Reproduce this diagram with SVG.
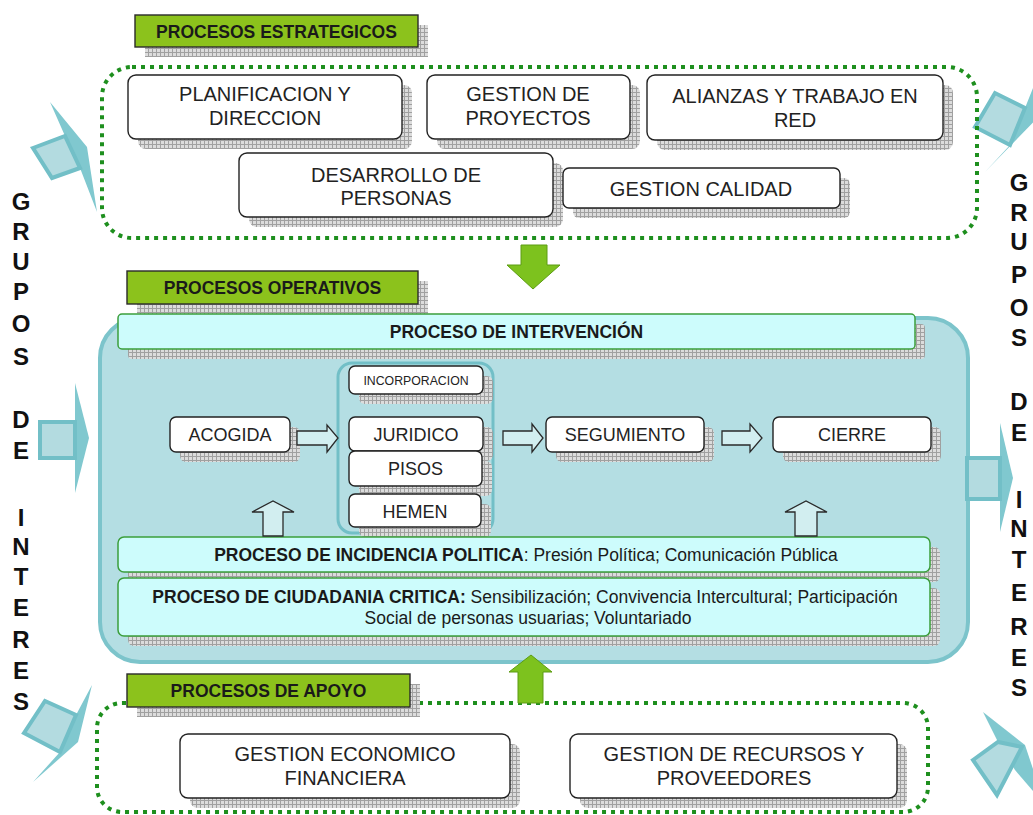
<svg xmlns="http://www.w3.org/2000/svg" width="1033" height="815" viewBox="0 0 1033 815">
<defs>
<pattern id="hatch" width="4" height="4" patternUnits="userSpaceOnUse"><rect width="4" height="4" fill="#dcdcdc"/><path d="M0 0.5H4M0.5 0V4" stroke="#a0a0a0" stroke-width="1"/></pattern>
<style>
.sh{fill:url(#hatch)}
.box{fill:#fff;stroke:#222;stroke-width:1.4}
.t{font-family:"Liberation Sans",Arial,sans-serif;font-size:20px;fill:#222;text-anchor:middle}
.t2{font-family:"Liberation Sans",Arial,sans-serif;font-size:18px;fill:#222;text-anchor:middle}
.t3{font-family:"Liberation Sans",Arial,sans-serif;font-size:12.3px;fill:#222;text-anchor:middle}
.lab{fill:#8cc21c;stroke:#2a2a2a;stroke-width:1.4}
.labt{font-family:"Liberation Sans",Arial,sans-serif;font-size:17.5px;font-weight:bold;fill:#1a1a1a;text-anchor:middle}
.dot{fill:none;stroke:#1e8f1e;stroke-width:4;stroke-dasharray:4 5}
.pb{fill:#cdfcfc;stroke:#3b9e3b;stroke-width:1.5}
.pt{font-family:"Liberation Sans",Arial,sans-serif;font-size:17.5px;fill:#1a1a1a;text-anchor:middle}
.hol{fill:#d2eef0;stroke:#2a2a2a;stroke-width:1.3;stroke-linejoin:miter}
.side{font-family:"Liberation Sans",Arial,sans-serif;font-size:24px;font-weight:bold;fill:#111;text-anchor:middle}
.ab{fill:#b3dbe0;stroke:#72bfc7;stroke-width:4;stroke-linejoin:miter}
.ah{fill:#80c8cf}
.ga{fill:#7dc21e;stroke:#5c9c12;stroke-width:1}
</style>
</defs>
<rect width="1033" height="815" fill="#fff"/>

<g id="side-arrows">
<polygon class="ah" points="50,102 87,147 97,212 80,168 65,136"/>
<polygon class="ab" points="33,148 65,136 80,168 52,178"/>
<polygon class="ah" points="1025,108 1045,58 1045,110 985,172 1010,145"/>
<polygon class="ab" points="975,127 995,93 1025,108 1010,145"/>
<polygon class="ah" points="75,383 89,438 75,493"/>
<rect class="ab" x="40" y="422" width="35" height="36"/>
<polygon class="ah" points="76,715 92,685 78,742 33,782 60,752"/>
<polygon class="ab" points="24,733 45,701 76,715 60,752"/>
</g>

<g id="side-text-left">
<text class="side" x="21" y="210">G</text>
<text class="side" x="21" y="240">R</text>
<text class="side" x="21" y="270">U</text>
<text class="side" x="21" y="300">P</text>
<text class="side" x="21" y="332">O</text>
<text class="side" x="21" y="365">S</text>
<text class="side" x="21" y="428">D</text>
<text class="side" x="21" y="459">E</text>
<text class="side" x="21" y="526">I</text>
<text class="side" x="21" y="555">N</text>
<text class="side" x="21" y="585">T</text>
<text class="side" x="21" y="616">E</text>
<text class="side" x="21" y="648">R</text>
<text class="side" x="21" y="679">E</text>
<text class="side" x="21" y="710">S</text>
</g>
<g id="side-text-right">
<text class="side" x="1019" y="191">G</text>
<text class="side" x="1019" y="221">R</text>
<text class="side" x="1019" y="250">U</text>
<text class="side" x="1019" y="283">P</text>
<text class="side" x="1019" y="316">O</text>
<text class="side" x="1019" y="346">S</text>
<text class="side" x="1019" y="410">D</text>
<text class="side" x="1019" y="441">E</text>
<text class="side" x="1019" y="508">I</text>
<text class="side" x="1019" y="537">N</text>
<text class="side" x="1019" y="568">T</text>
<text class="side" x="1019" y="601">E</text>
<text class="side" x="1019" y="635">R</text>
<text class="side" x="1019" y="666">E</text>
<text class="side" x="1019" y="696">S</text>
</g>

<g id="estrategicos-frame"><rect class="dot" x="102" y="67" width="875" height="171" rx="30"/></g>
<g id="label-estrategicos">
<rect class="sh" x="145" y="25" width="283" height="32"/>
<rect class="lab" x="135" y="15" width="283" height="32"/>
<text class="labt" x="276.5" y="38">PROCESOS ESTRATEGICOS</text>
</g>
<g id="n-planificacion">
<rect class="sh" x="138" y="85" width="274" height="64" rx="8"/>
<rect class="box" x="128" y="75" width="274" height="64" rx="8"/>
<text class="t" x="265" y="101">PLANIFICACION Y</text>
<text class="t" x="265" y="125">DIRECCION</text>
</g>
<g id="n-proyectos">
<rect class="sh" x="437" y="85" width="203" height="64" rx="8"/>
<rect class="box" x="427" y="75" width="203" height="64" rx="8"/>
<text class="t" x="528" y="101">GESTION DE</text>
<text class="t" x="528" y="125">PROYECTOS</text>
</g>
<g id="n-alianzas">
<rect class="sh" x="657" y="85" width="296" height="65" rx="8"/>
<rect class="box" x="647" y="75" width="296" height="65" rx="8"/>
<text class="t" x="795" y="103">ALIANZAS Y TRABAJO EN</text>
<text class="t" x="795" y="127">RED</text>
</g>
<g id="n-desarrollo">
<rect class="sh" x="249" y="163" width="314" height="64" rx="8"/>
<rect class="box" x="239" y="153" width="314" height="64" rx="8"/>
<text class="t" x="396" y="182">DESARROLLO DE</text>
<text class="t" x="396" y="205">PERSONAS</text>
</g>
<g id="n-calidad">
<rect class="sh" x="573" y="178" width="277" height="40" rx="6"/>
<rect class="box" x="563" y="168" width="277" height="40" rx="6"/>
<text class="t" x="701" y="196">GESTION CALIDAD</text>
</g>

<g id="operativos-frame">
<rect x="100" y="318" width="868" height="344" rx="40" fill="#b4dee3" stroke="#7cc4cb" stroke-width="4"/>
</g>
<g id="label-operativos">
<rect class="sh" x="137" y="281" width="291" height="33"/>
<rect class="lab" x="127" y="271" width="291" height="33"/>
<text class="labt" x="272.5" y="294">PROCESOS OPERATIVOS</text>
</g>
<g id="n-intervencion">
<rect class="sh" x="128" y="324" width="797" height="35" rx="4"/>
<rect class="pb" x="118" y="314" width="797" height="35" rx="4"/>
<text class="pt" x="516.5" y="338" font-weight="bold">PROCESO DE INTERVENCIÓN</text>
</g>
<g id="inner-group"><rect x="338" y="363" width="155" height="170" rx="14" fill="none" stroke="#72bfc7" stroke-width="3"/></g>
<g id="n-acogida">
<rect class="sh" x="180" y="427" width="120" height="35" rx="6"/>
<rect class="box" x="170" y="417" width="120" height="35" rx="6"/>
<text class="t2" x="230" y="441">ACOGIDA</text>
</g>
<g id="n-incorporacion">
<rect class="sh" x="359" y="376" width="134" height="28" rx="6"/>
<rect class="box" x="349" y="366" width="134" height="28" rx="6"/>
<text class="t3" x="416" y="384.5">INCORPORACION</text>
</g>
<g id="n-juridico">
<rect class="sh" x="359" y="427" width="134" height="34" rx="6"/>
<rect class="box" x="349" y="417" width="134" height="34" rx="6"/>
<text class="t2" x="416" y="441">JURIDICO</text>
</g>
<g id="n-pisos">
<rect class="sh" x="359" y="461" width="133" height="35" rx="6"/>
<rect class="box" x="349" y="451" width="133" height="35" rx="6"/>
<text class="t2" x="415.5" y="475">PISOS</text>
</g>
<g id="n-hemen">
<rect class="sh" x="359" y="504" width="132" height="33" rx="6"/>
<rect class="box" x="349" y="494" width="132" height="33" rx="6"/>
<text class="t2" x="415" y="518">HEMEN</text>
</g>
<g id="n-segumiento">
<rect class="sh" x="556" y="427" width="158" height="35" rx="6"/>
<rect class="box" x="546" y="417" width="158" height="35" rx="6"/>
<text class="t2" x="625" y="441">SEGUMIENTO</text>
</g>
<g id="n-cierre">
<rect class="sh" x="783" y="427" width="158" height="35" rx="6"/>
<rect class="box" x="773" y="417" width="158" height="35" rx="6"/>
<text class="t2" x="852" y="441">CIERRE</text>
</g>
<g id="n-incidencia">
<rect class="sh" x="128" y="547" width="812" height="35" rx="6"/>
<rect class="pb" x="118" y="537" width="812" height="35" rx="6"/>
<text class="pt" x="526" y="561"><tspan font-weight="bold">PROCESO DE INCIDENCIA POLITICA</tspan>: Presión Política; Comunicación Pública</text>
</g>
<g id="n-ciudadania">
<rect class="sh" x="128" y="588" width="812" height="58" rx="6"/>
<rect class="pb" x="118" y="578" width="812" height="58" rx="6"/>
<text class="pt" x="525" y="603"><tspan font-weight="bold">PROCESO DE CIUDADANIA CRITICA:</tspan> Sensibilización; Convivencia Intercultural; Participación</text>
<text class="pt" x="528" y="624">Social de personas usuarias; Voluntariado</text>
</g>

<g id="apoyo-frame"><rect class="dot" x="97" y="703" width="831" height="109" rx="25"/></g>
<g id="label-apoyo">
<rect class="sh" x="137" y="684" width="283" height="33"/>
<rect class="lab" x="127" y="674" width="283" height="33"/>
<text class="labt" x="268.5" y="697">PROCESOS DE APOYO</text>
</g>
<g id="n-economico">
<rect class="sh" x="190" y="744" width="330" height="64" rx="8"/>
<rect class="box" x="180" y="734" width="330" height="64" rx="8"/>
<text class="t" x="345" y="761">GESTION ECONOMICO</text>
<text class="t" x="345" y="785">FINANCIERA</text>
</g>
<g id="n-recursos">
<rect class="sh" x="580" y="744" width="327" height="64" rx="8"/>
<rect class="box" x="570" y="734" width="327" height="64" rx="8"/>
<text class="t" x="734" y="761">GESTION DE RECURSOS Y</text>
<text class="t" x="734" y="785">PROVEEDORES</text>
</g>

<g id="side-arrows-right2">
<polygon class="ah" points="1000,423 1013,478 1000,532"/>
<rect class="ab" x="967" y="458" width="33" height="41"/>
<polygon class="ah" points="998,742 983,712 1025,745 1045,805 1015,770"/>
<polygon class="ab" points="973,760 998,742 1022,747 997,795"/>
</g>

<g id="connectors">
<polygon class="ga" points="521,245 547,245 547,265 560,265 533,289 507,265 521,265"/>
<polygon class="ga" points="518,703 543,703 543,672 552,672 531,655 509,672 518,672"/>
<polygon class="hol" points="297,431 327,431 327,425 338,438 327,452 327,445 297,445"/>
<polygon class="hol" points="503,431 532,431 532,424 543,438 532,452 532,445 503,445"/>
<polygon class="hol" points="722,431 750,431 750,424 762,438 750,452 750,445 722,445"/>
<polygon class="hol" points="263,536 263,512 252,512 273,501 294,512 283,512 283,536"/>
<polygon class="hol" points="795,536 795,512 785,512 806,501 827,512 817,512 817,536"/>
</g>
</svg>
